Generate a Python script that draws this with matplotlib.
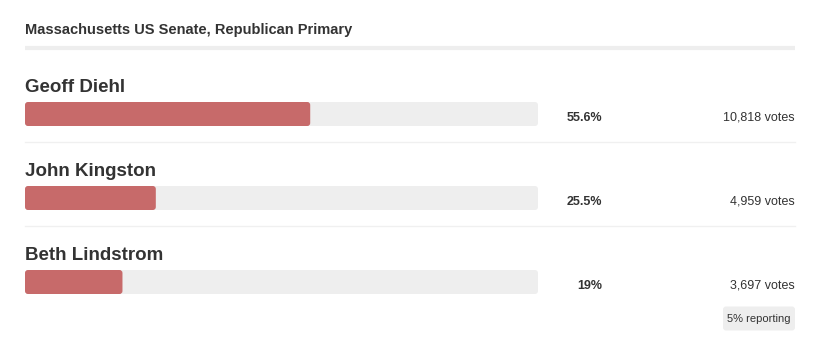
"""Massachusetts US Senate Republican primary results card."""

import matplotlib

matplotlib.use("Agg")
import matplotlib.pyplot as plt
from matplotlib.patches import FancyBboxPatch

TITLE = "Massachusetts US Senate, Republican Primary"
CANDIDATES = ["Geoff Diehl", "John Kingston", "Beth Lindstrom"]
PCT = [55.6, 25.5, 19.0]
PCT_LABELS = ["55.6%", "25.5%", "19%"]
VOTES = [10818, 4959, 3697]
REPORTING = "5% reporting"

INK = "#333333"
FILL = "#c76a6a"
TRACK = "#eeeeee"
RULE = "#eeeeee"

W, H = 819, 363
DPI = 100

plt.rcParams["font.family"] = ["Liberation Sans", "DejaVu Sans"]

fig = plt.figure(figsize=(W / DPI, H / DPI), dpi=DPI)
fig.patch.set_facecolor("white")

# overlay axes in pixel coordinates for text and rules
ov = fig.add_axes([0, 0, 1, 1])
ov.set_xlim(0, W)
ov.set_ylim(H, 0)
ov.axis("off")

ov.text(25, 30, TITLE, fontsize=10.5, fontweight="bold", color=INK, ha="left", va="center")
ov.plot([25, 795], [47.5, 47.5], color=RULE, lw=3, solid_capstyle="butt")

ROW0, STEP = 114, 84
for i, (name, lab, v) in enumerate(zip(CANDIDATES, PCT_LABELS, VOTES)):
    yc = ROW0 + i * STEP
    ov.text(25, yc - 26, name, fontsize=13.5, fontweight="bold", color=INK, ha="left", va="center")
    ov.text(602, yc + 4, lab, fontsize=9, fontweight="bold", color=INK, ha="right", va="center")
    ov.text(795, yc + 4, f"{v:,} votes", fontsize=9, color=INK, ha="right", va="center")
    if i < len(CANDIDATES) - 1:
        ov.plot([25, 795], [yc + 28, yc + 28], color="#f0f0f0", lw=1)

# reporting badge
ov.add_patch(
    FancyBboxPatch(
        (724.5, 308), 69, 21,
        boxstyle="round,pad=1.5,rounding_size=3",
        facecolor="#eeeeee", edgecolor="none",
    )
)
ov.text(759, 318.5, REPORTING, fontsize=8, color=INK, ha="center", va="center")

# bar axes: track spans x 25..538 px, rows 72..324 px
x0, x1 = 25, 538
top, bot = 72, 72 + STEP * 3
bx = fig.add_axes([x0 / W, 1 - bot / H, (x1 - x0) / W, (bot - top) / H])
bx.set_xlim(0, 100)
bx.set_ylim(len(CANDIDATES) - 0.5, -0.5)
bx.axis("off")
bx.patch.set_alpha(0)

bh = 24 / STEP
rows = list(range(len(CANDIDATES)))
tracks = bx.barh(rows, [100] * len(rows), height=bh, color=TRACK)
fills = bx.barh(rows, PCT, height=bh, color=FILL)

# px per data unit, for rounded corners
sx = (x1 - x0) / 100
sy = STEP
r = 3
for bars, col in ((tracks, TRACK), (fills, FILL)):
    for b in bars:
        b.set_visible(False)
        pad = r / sx
        bx.add_patch(
            FancyBboxPatch(
                (b.get_x() + pad, b.get_y() + r / sy),
                b.get_width() - 2 * pad,
                b.get_height() - 2 * r / sy,
                boxstyle=f"round,pad={pad},rounding_size={pad}",
                mutation_aspect=sx / sy,
                facecolor=col, edgecolor="none",
            )
        )

fig.savefig("out.png", dpi=DPI, facecolor="white")
